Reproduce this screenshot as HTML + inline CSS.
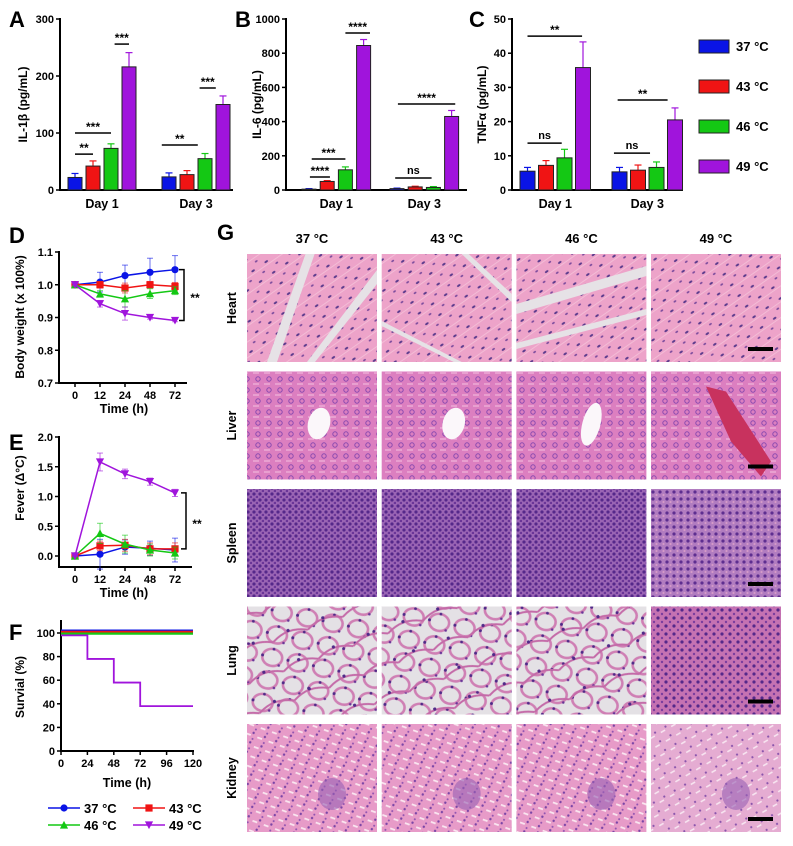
<!DOCTYPE html>
<html><head><meta charset="utf-8">
<style>
html,body{margin:0;padding:0;background:#fff;}
svg{display:block;font-family:"Liberation Sans",Arial,sans-serif;font-weight:bold;}
</style></head>
<body>
<svg id="fig" width="793" height="846" viewBox="0 0 793 846" xmlns="http://www.w3.org/2000/svg">
<defs>
<pattern id="pHeart" width="16" height="13" patternUnits="userSpaceOnUse" patternTransform="rotate(-35)">
<rect width="16" height="13" fill="#eda3c9"/><line x1="0" y1="6" x2="16" y2="6" stroke="#f3bcd6" stroke-width="1"/>
<ellipse cx="4" cy="3" rx="2" ry="1" fill="#5a3a8c"/><ellipse cx="12" cy="10" rx="1.6" ry="0.9" fill="#7a4a9c"/></pattern>
<pattern id="pLiver" width="11" height="11" patternUnits="userSpaceOnUse">
<rect width="11" height="11" fill="#dc7fc0"/><circle cx="5" cy="5" r="2.2" fill="none" stroke="#8a4ab0" stroke-width="1"/><rect x="0" y="9.5" width="6" height="1" fill="#f3c0e0"/></pattern>
<pattern id="pSpleen" width="6" height="6" patternUnits="userSpaceOnUse">
<rect width="6" height="6" fill="#9a64b4"/><circle cx="2" cy="2" r="1.6" fill="#55288a"/><circle cx="5" cy="5" r="1.3" fill="#6a3598"/></pattern>
<pattern id="pSpleen4" width="7" height="7" patternUnits="userSpaceOnUse">
<rect width="7" height="7" fill="#b17cc0"/><circle cx="2" cy="2" r="1.6" fill="#5e2e90"/><circle cx="5.5" cy="5" r="1.1" fill="#d49ac8"/></pattern>
<pattern id="pLung" width="26" height="23" patternUnits="userSpaceOnUse" patternTransform="rotate(12)">
<rect width="26" height="23" fill="#e4e1e5"/><ellipse cx="13" cy="11.5" rx="10" ry="8.5" fill="none" stroke="#cf7fb4" stroke-width="2.6"/><circle cx="3" cy="11" r="1.5" fill="#4f2a88"/><circle cx="13" cy="3" r="1.4" fill="#4f2a88"/><circle cx="21" cy="18" r="1.3" fill="#6a3598"/></pattern>
<pattern id="pLungB" width="37" height="31" patternUnits="userSpaceOnUse" patternTransform="rotate(-20)">
<rect width="37" height="31" fill="none"/><path d="M0 15 Q18 5 37 15" fill="none" stroke="#c46aa8" stroke-width="2"/><circle cx="18" cy="9" r="1.6" fill="#4f2a88"/></pattern>
<pattern id="pLung4" width="8" height="8" patternUnits="userSpaceOnUse">
<rect width="8" height="8" fill="#c572b2"/><circle cx="2" cy="2" r="1.6" fill="#55288a"/><circle cx="6" cy="6" r="1.2" fill="#7b3d9e"/></pattern>
<pattern id="pKidney" width="12" height="10" patternUnits="userSpaceOnUse" patternTransform="rotate(20)">
<rect width="12" height="10" fill="#e79bc8"/><rect x="2" y="4" width="5" height="1.8" fill="#fae6f0"/><circle cx="9" cy="2" r="1.2" fill="#7a45a6"/><circle cx="10" cy="8" r="1" fill="#8e52b0"/></pattern>
<pattern id="pKidney4" width="12" height="10" patternUnits="userSpaceOnUse" patternTransform="rotate(-30)">
<rect width="12" height="10" fill="#e5acd2"/><rect x="2" y="4" width="5" height="1.6" fill="#f7e4f0"/><circle cx="9" cy="2" r="1.1" fill="#8a55ac"/></pattern>
</defs>
</svg>
<script>
const NS='http://www.w3.org/2000/svg';
const svg=document.getElementById('fig');
function mk(tag,attrs,name,parent){
  const el=document.createElementNS(NS,tag);
  for(const k in attrs) el.setAttribute(k,attrs[k]);
  
  
  (parent||svg).appendChild(el);
  return el;
}
function txt(x,y,s,size,name,anchor,rot){
  const a={x:x,y:y,'font-size':size,'text-anchor':anchor||'middle',fill:'#000'};
  if(rot) a.transform='rotate('+rot+' '+x+' '+y+')';
  const t=mk('text',a,name); t.textContent=s; return t;
}
const colors=['#0a14e6','#f01414','#14c814','#a014dc'];
const groupNames=['37 °C','43 °C','46 °C','49 °C'];

// ---------- Bar chart data ----------
const barCats=['Day 1','Day 3'];
const il1bDay1=[22,42,73,216]; const il1bErrDay1=[7,9,8,25];
const il1bDay3=[23,27,55,150]; const il1bErrDay3=[7,7,9,15];
const il6Day1=[5,50,118,845]; const il6ErrDay1=[3,5,17,35];
const il6Day3=[8,18,15,430]; const il6ErrDay3=[3,4,5,35];
const tnfDay1=[5.5,7.2,9.4,35.8]; const tnfErrDay1=[1.1,1.4,2.5,7.5];
const tnfDay3=[5.3,5.8,6.6,20.5]; const tnfErrDay3=[1.3,1.5,1.6,3.5];
const il1bTicks=[0,100,200,300]; const il6Ticks=[0,200,400,600,800,1000]; const tnfTicks=[0,10,20,30,40,50];
const il1bSig=[{g:0,a:0,b:1,v:63,t:'**'},{g:0,a:0,b:2,v:100,t:'***'},{g:0,a:2.2,b:3.0,v:256,t:'***'},{g:1,a:-0.4,b:1.6,v:79,t:'**'},{g:1,a:1.7,b:2.6,v:179,t:'***'}];
const il6Sig=[{g:0,a:2.0,b:3.35,v:918,t:'****'},{g:0,a:0.15,b:2.0,v:181,t:'***'},{g:0,a:0.05,b:1.15,v:76,t:'****'},{g:1,a:0.05,b:3.2,v:503,t:'****'},{g:1,a:-0.1,b:1.9,v:70,t:'ns'}];
const tnfSig=[{g:0,a:0,b:2.95,v:45,t:'**'},{g:0,a:0,b:1.85,v:13.7,t:'ns'},{g:1,a:-0.1,b:2.6,v:26.3,t:'**'},{g:1,a:-0.3,b:1.65,v:10.8,t:'ns'}];

function barChart(c){
  const y=v=>c.y0-(v/c.max)*(c.y0-c.y1);
  const bx=(g,i)=>c.gx[g]+i*c.step;
  mk('line',{x1:c.ax,y1:c.y1-1,x2:c.ax,y2:c.y0,stroke:'#000','stroke-width':2},c.id+'-y-axis');
  mk('line',{x1:c.ax-1,y1:c.y0,x2:c.xe,y2:c.y0,stroke:'#000','stroke-width':2},c.id+'-x-axis');
  c.ticks.forEach(t=>{
    mk('line',{x1:c.ax-4,y1:y(t),x2:c.ax,y2:y(t),stroke:'#000','stroke-width':1.5},c.id+'-y-tick');
    txt(c.ax-6,y(t)+4,String(t),11,c.id+'-y-tick-label','end');
  });
  [c.d1,c.d3].forEach((vals,g)=>{
    const errs=g===0?c.e1:c.e3;
    vals.forEach((v,i)=>{
      const x=bx(g,i), top=y(v+errs[i]);
      mk('line',{x1:x+c.bw/2,y1:top,x2:x+c.bw/2,y2:y(v),stroke:colors[i],'stroke-width':1.2},c.id+'-error-bar');
      mk('line',{x1:x+c.bw/2-3.5,y1:top,x2:x+c.bw/2+3.5,y2:top,stroke:colors[i],'stroke-width':1.2},c.id+'-error-cap');
      mk('rect',{x:x,y:y(v),width:c.bw,height:Math.max(0.8,c.y0-y(v)),fill:colors[i],stroke:'#222','stroke-width':1},c.id+'-bar-'+barCats[g].replace(' ','').toLowerCase()+'-'+groupNames[i].slice(0,2));
    });
    txt(bx(g,1.5)+c.bw/2,c.y0+18,barCats[g],12.5,c.id+'-x-label');
  });
  c.sig.forEach(s=>{
    const x1=bx(s.g,s.a)+c.bw/2, x2=bx(s.g,s.b)+c.bw/2, yy=y(s.v);
    mk('line',{x1:x1,y1:yy,x2:x2,y2:yy,stroke:'#000','stroke-width':1.5},c.id+'-sig-line');
    txt((x1+x2)/2,s.t==='ns'?yy-4:yy-2,s.t,s.t==='ns'?11:12,c.id+'-sig-label');
  });
  txt(c.tx,(c.y0+c.y1)/2,c.title,12,c.id+'-y-axis-title','middle',-90);
}
barChart({id:'il1b',ax:60,xe:233,y0:190,y1:19,max:300,ticks:il1bTicks,gx:[68,162],bw:14,step:18,d1:il1bDay1,e1:il1bErrDay1,d3:il1bDay3,e3:il1bErrDay3,sig:il1bSig,tx:27,title:'IL-1β (pg/mL)'});
barChart({id:'il6',ax:286,xe:467,y0:190,y1:19,max:1000,ticks:il6Ticks,gx:[302,390],bw:14,step:18.2,d1:il6Day1,e1:il6ErrDay1,d3:il6Day3,e3:il6ErrDay3,sig:il6Sig,tx:261,title:'IL-6 (pg/mL)'});
barChart({id:'tnf',ax:512,xe:683,y0:190,y1:19,max:50,ticks:tnfTicks,gx:[520,612],bw:15,step:18.5,d1:tnfDay1,e1:tnfErrDay1,d3:tnfDay3,e3:tnfErrDay3,sig:tnfSig,tx:486,title:'TNFα (pg/mL)'});

groupNames.forEach((g,i)=>{
  const yy=40+i*40;
  mk('rect',{x:699,y:yy,width:30,height:13,fill:colors[i],stroke:'#222','stroke-width':1},'bar-legend-swatch');
  txt(736,yy+11,g,13,'bar-legend-label','start');
});

[['A',9,27],['B',235,27],['C',469,27],['D',9,243],['E',9,450],['F',9,640],['G',217,240]].forEach(p=>txt(p[1],p[2],p[0],22,'panel-label-'+p[0].toLowerCase(),'start'));

// ---------- Line charts ----------
const timeCats=['0','12','24','48','72'];
const bwBlue=[1.0,1.008,1.028,1.038,1.046]; const bwBlueErr=[0.003,0.03,0.032,0.043,0.043];
const bwRed=[1.0,1.0,0.99,1.0,0.995]; const bwRedErr=[0.003,0.01,0.015,0.01,0.012];
const bwGreen=[1.0,0.972,0.957,0.973,0.982]; const bwGreenErr=[0.003,0.01,0.025,0.015,0.012];
const bwPurple=[1.0,0.942,0.912,0.900,0.891]; const bwPurpleErr=[0.003,0.01,0.02,0.005,0.004];
const bwTicks=[0.7,0.8,0.9,1.0,1.1];
const fvBlue=[0,0.03,0.15,0.13,0.1]; const fvBlueErr=[0.01,0.25,0.12,0.12,0.2];
const fvRed=[0,0.17,0.18,0.12,0.12]; const fvRedErr=[0.01,0.08,0.1,0.1,0.1];
const fvGreen=[0,0.38,0.2,0.1,0.05]; const fvGreenErr=[0.01,0.17,0.15,0.1,0.1];
const fvPurple=[0,1.58,1.38,1.25,1.06]; const fvPurpleErr=[0.01,0.15,0.08,0.06,0.06];
const fvTicks=[0,0.5,1.0,1.5,2.0];

function marker(shape,x,y,col,name){
  const s=3.6;
  if(shape===0) mk('circle',{cx:x,cy:y,r:s,fill:col},name);
  else if(shape===1) mk('rect',{x:x-s,y:y-s,width:2*s,height:2*s,fill:col},name);
  else if(shape===2) mk('polygon',{points:`${x},${y-s-0.5} ${x+s+0.5},${y+s} ${x-s-0.5},${y+s}`,fill:col},name);
  else mk('polygon',{points:`${x},${y+s+0.5} ${x+s+0.5},${y-s} ${x-s-0.5},${y-s}`,fill:col},name);
}
function lineChart(c){
  const y=v=>c.py0-(v-c.min)/(c.max-c.min)*(c.py0-c.py1);
  const x=i=>75+i*25;
  mk('line',{x1:59,y1:c.py1-1,x2:59,y2:c.axy,stroke:'#000','stroke-width':2},c.id+'-y-axis');
  mk('line',{x1:58,y1:c.axy,x2:c.xe,y2:c.axy,stroke:'#000','stroke-width':2},c.id+'-x-axis');
  c.ticks.forEach(t=>{
    mk('line',{x1:55,y1:y(t),x2:59,y2:y(t),stroke:'#000','stroke-width':1.5},c.id+'-y-tick');
    txt(53,y(t)+4,t.toFixed(1),11,c.id+'-y-tick-label','end');
  });
  timeCats.forEach((t,i)=>{
    mk('line',{x1:x(i),y1:c.axy,x2:x(i),y2:c.axy+4,stroke:'#000','stroke-width':1.5},c.id+'-x-tick');
    txt(x(i),c.axy+16,t,11,c.id+'-x-tick-label');
  });
  txt(124,c.axy+30,'Time (h)',12.5,c.id+'-x-axis-title');
  txt(24,c.ty,c.title,12,c.id+'-y-axis-title','middle',-90);
  c.series.forEach((s,k)=>{
    const col=colors[k];
    mk('polyline',{points:s.v.map((v,i)=>x(i)+','+y(v)).join(' '),fill:'none',stroke:col,'stroke-width':1.5},c.id+'-line-'+groupNames[k].slice(0,2));
    s.v.forEach((v,i)=>{
      const e=s.e[i];
      mk('line',{x1:x(i),y1:y(v+e),x2:x(i),y2:y(v-e),stroke:col,'stroke-width':1,opacity:0.6},c.id+'-error-bar');
      mk('line',{x1:x(i)-3,y1:y(v+e),x2:x(i)+3,y2:y(v+e),stroke:col,'stroke-width':1,opacity:0.6},c.id+'-error-cap');
      mk('line',{x1:x(i)-3,y1:y(v-e),x2:x(i)+3,y2:y(v-e),stroke:col,'stroke-width':1,opacity:0.6},c.id+'-error-cap');
      marker(k,x(i),y(v),col,c.id+'-point');
    });
  });
  const top=y(c.series[c.bTop].v[4]), bot=y(c.series[c.bBot].v[4]);
  mk('polyline',{points:`${c.bx},${top} ${c.bx+5},${top} ${c.bx+5},${bot} ${c.bx},${bot}`,fill:'none',stroke:'#000','stroke-width':1.5},c.id+'-sig-bracket');
  txt(c.bx+16,(top+bot)/2+7,'**',12,c.id+'-sig-label');
}
lineChart({id:'body-weight',py0:383,py1:252,min:0.7,max:1.1,axy:383,xe:187,ticks:bwTicks,ty:317,title:'Body weight (x 100%)',
  series:[{v:bwBlue,e:bwBlueErr},{v:bwRed,e:bwRedErr},{v:bwGreen,e:bwGreenErr},{v:bwPurple,e:bwPurpleErr}],bTop:0,bBot:3,bx:179});
lineChart({id:'fever',py0:556,py1:437,min:0,max:2,axy:567,xe:192,ticks:fvTicks,ty:488,title:'Fever (Δ°C)',
  series:[{v:fvBlue,e:fvBlueErr},{v:fvRed,e:fvRedErr},{v:fvGreen,e:fvGreenErr},{v:fvPurple,e:fvPurpleErr}],bTop:3,bBot:1,bx:181});

// ---------- Survival ----------
const survTicksY=[0,20,40,60,80,100]; const survTicksX=[0,24,48,72,96,120];
const survBlue=[[0,102],[120,102]]; const survRed=[[0,101],[120,101]]; const survGreen=[[0,99.5],[120,99.5]];
const survPurpleT=[0,24,48,72,120]; const survPurpleV=[98,78,58,38];
(function(){
  const sx=t=>61+t/120*132, sy=v=>751-v*1.18;
  mk('line',{x1:61,y1:620,x2:61,y2:752,stroke:'#000','stroke-width':2},'survival-y-axis');
  mk('line',{x1:60,y1:751,x2:194,y2:751,stroke:'#000','stroke-width':2},'survival-x-axis');
  survTicksY.forEach(t=>{mk('line',{x1:57,y1:sy(t),x2:61,y2:sy(t),stroke:'#000','stroke-width':1.5},'survival-y-tick');txt(55,sy(t)+4,String(t),11,'survival-y-tick-label','end');});
  survTicksX.forEach(t=>{mk('line',{x1:sx(t),y1:751,x2:sx(t),y2:755,stroke:'#000','stroke-width':1.5},'survival-x-tick');txt(sx(t),767,String(t),11,'survival-x-tick-label');});
  txt(127,787,'Time (h)',12.5,'survival-x-axis-title');
  txt(24,687,'Survial (%)',12,'survival-y-axis-title','middle',-90);
  [[survBlue,0],[survRed,1],[survGreen,2]].forEach(p=>mk('polyline',{points:p[0].map(d=>sx(d[0])+','+sy(d[1])).join(' '),fill:'none',stroke:colors[p[1]],'stroke-width':2.2},'survival-line-'+groupNames[p[1]].slice(0,2)));
  let pts=[];
  survPurpleV.forEach((v,i)=>{pts.push(sx(survPurpleT[i])+','+sy(v));pts.push(sx(survPurpleT[i+1])+','+sy(v));});
  mk('polyline',{points:pts.join(' '),fill:'none',stroke:colors[3],'stroke-width':1.8},'survival-line-49');
})();
[[0,48,808],[1,133,808],[2,48,825],[3,133,825]].forEach(p=>{
  const k=p[0];
  mk('line',{x1:p[1],y1:p[2],x2:p[1]+32,y2:p[2],stroke:colors[k],'stroke-width':1.5},'line-legend-swatch');
  marker(k,p[1]+16,p[2],colors[k],'line-legend-marker');
  txt(p[1]+36,p[2]+5,groupNames[k],13,'line-legend-label','start');
});

// ---------- Histology ----------
const tissues=['Heart','Liver','Spleen','Lung','Kidney'];
const colX=[247,381.7,516.4,651]; const rowY=[254,371.5,489,606.5,724];
const W=130,H=108;
groupNames.forEach((g,i)=>txt(colX[i]+W/2,243,g,13,'histology-column-header'));
tissues.forEach((t,r)=>txt(236,rowY[r]+H/2,t,12.5,'histology-row-label','middle',-90));
const fills={Heart:['pHeart','pHeart','pHeart','pHeart'],Liver:['pLiver','pLiver','pLiver','pLiver'],Spleen:['pSpleen','pSpleen','pSpleen','pSpleen4'],Lung:['pLung','pLung','pLung','pLung4'],Kidney:['pKidney','pKidney','pKidney','pKidney4']};
tissues.forEach((t,r)=>{
  colX.forEach((x,c)=>{
    const y=rowY[r];
    const g=mk('g',{},'histology-image-'+t.toLowerCase()+'-'+groupNames[c].slice(0,2));
    mk('rect',{x:x,y:y,width:W,height:H,fill:'url(#'+fills[t][c]+')'},'tissue-texture',g);
    if(t==='Lung'&&c<3) mk('rect',{x:x,y:y,width:W,height:H,fill:'url(#pLungB)'},'tissue-septa',g);
    if(t==='Heart'&&c<3){
      const s=[[[x+20,y+H],[x+30,y+H],[x+W*0.52,y],[x+W*0.45,y]],[[x+60,y+H],[x+68,y+H],[x+W,y+30],[x+W,y+16]]];
      if(c===2){s[0]=[[x,y+60],[x,y+50],[x+W,y+12],[x+W,y+22]];s[1]=[[x,y+95],[x,y+89],[x+W,y+55],[x+W,y+61]];}
      if(c===1){s[0]=[[x,y+67],[x,y+72],[x+72,y+H],[x+80,y+H]];s[1]=[[x+80,y],[x+87,y],[x+W,y+40],[x+W,y+48]];}
      s.forEach(p=>mk('polygon',{points:p.map(q=>q.join(',')).join(' '),fill:'#e6e2e6'},'tissue-gap',g));
    }
    if(t==='Liver'&&c<3) mk('ellipse',{cx:x+(c===2?75:72),cy:y+52,rx:c===2?9:11,ry:c===2?22:16,fill:'#fbf7fa',transform:'rotate(15 '+(x+72)+' '+(y+52)+')'},'vessel-lumen',g);
    if(t==='Liver'&&c===3) mk('polygon',{points:`${x+55},${y+15} ${x+75},${y+20} ${x+120},${y+90} ${x+110},${y+105} ${x+80},${y+70}`,fill:'#c8325e'},'congestion',g);
    if(t==='Kidney') mk('ellipse',{cx:x+85,cy:y+70,rx:14,ry:16,fill:'#9760b4',opacity:0.6},'glomerulus',g);
    if(c===3) mk('rect',{x:748,y:y+H-15,width:25,height:4,fill:'#000'},'scale-bar',g);
  });
});
</script>
</body></html>
